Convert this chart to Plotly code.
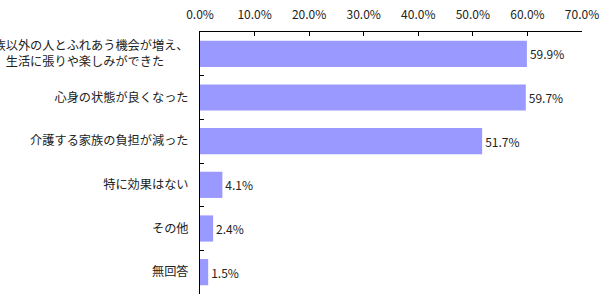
import plotly.graph_objects as go

categories = [
    "家族以外の人とふれあう機会が増え、<br>生活に張りや楽しみができた　　",
    "心身の状態が良くなった",
    "介護する家族の負担が減った",
    "特に効果はない",
    "その他",
    "無回答",
]
values = [59.9, 59.7, 51.7, 4.1, 2.4, 1.5]
x_ticks = [0, 10, 20, 30, 40, 50, 60, 70]

font_family = "Noto Sans CJK JP, Noto Sans, sans-serif"

fig = go.Figure(
    go.Bar(
        y=categories,
        x=values,
        orientation="h",
        marker=dict(color="#9999FF", line=dict(width=0)),
        width=0.6,
        text=[f"{v:.1f}%" for v in values],
        textposition="outside",
        textfont=dict(size=12, color="#222222", family=font_family),
        cliponaxis=False,
    )
)

fig.update_layout(
    width=601,
    height=296,
    margin=dict(l=200, r=19, t=32, b=2),
    paper_bgcolor="white",
    plot_bgcolor="white",
    showlegend=False,
    font=dict(family=font_family, color="#222222"),
)

fig.update_xaxes(
    side="top",
    range=[0, 70],
    tickvals=x_ticks,
    ticktext=[f"{t:.1f}%" for t in x_ticks],
    ticks="inside",
    ticklen=4,
    tickcolor="black",
    showline=True,
    linecolor="black",
    linewidth=1,
    showgrid=False,
    zeroline=False,
    tickfont=dict(size=12, color="#222222"),
    ticklabelstandoff=7,
    automargin=False,
)

fig.update_yaxes(
    categoryorder="array",
    categoryarray=categories,
    autorange="reversed",
    ticks="inside",
    tickson="boundaries",
    ticklen=4,
    tickcolor="black",
    showline=True,
    linecolor="black",
    linewidth=1,
    showgrid=False,
    tickfont=dict(size=12.2, color="#222222"),
    ticklabelstandoff=8,
    automargin=False,
)

fig.write_html("out.html")
